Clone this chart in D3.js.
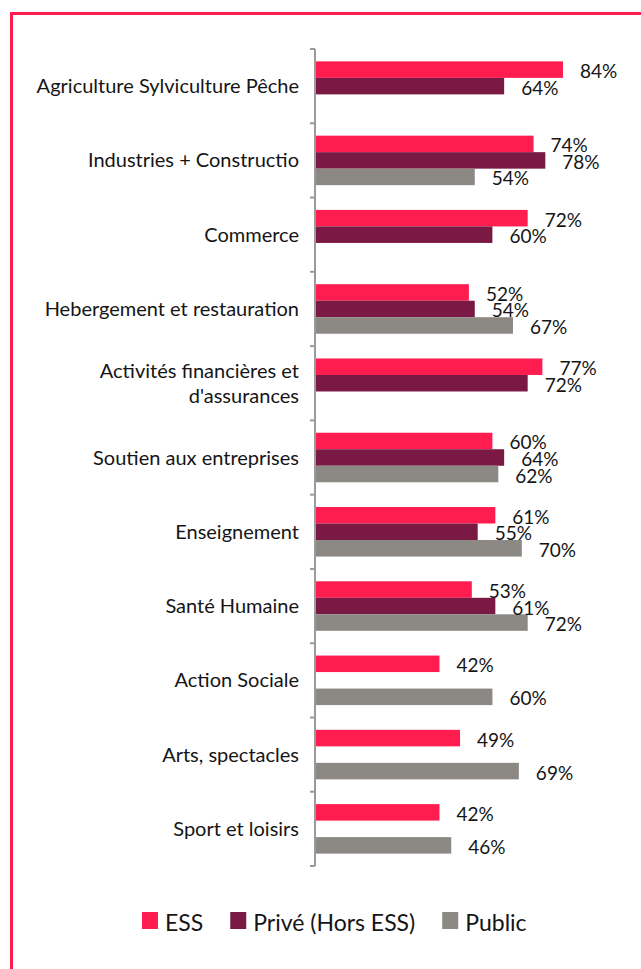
<!DOCTYPE html>
<html>
<head>
<meta charset="utf-8">
<script src="https://cdn.jsdelivr.net/npm/d3@7"></script>
<style>
  html, body { margin: 0; padding: 0; background: #fff; }
  svg { display: block; }
  text { font-family: Lato, "Open Sans", sans-serif; fill: #151515; }
</style>
</head>
<body>
<svg id="chart" width="641" height="969"></svg>
<script>
// Sector labels (the trailing "Constructio" is how the source label reads)
const categories = [
  ["Agriculture Sylviculture Pêche"],
  ["Industries  + Constructio"],
  ["Commerce"],
  ["Hebergement et restauration"],
  ["Activités financières et", "d'assurances"],
  ["Soutien aux entreprises"],
  ["Enseignement"],
  ["Santé Humaine"],
  ["Action Sociale"],
  ["Arts, spectacles"],
  ["Sport et loisirs"]
];

// Shares in % per sector; null where no value is given
const essValues    = [84, 74, 72, 52, 77, 60, 61, 53, 42, 49, 42];
const priveValues  = [64, 78, 60, 54, 72, 64, 55, 61, null, null, null];
const publicValues = [null, 54, null, 67, null, 62, 70, 72, 60, 69, 46];

const seriesNames  = ["ESS", "Privé (Hors ESS)", "Public"];
const seriesColors = ["#FF1D50", "#7B1945", "#8C8883"];

const svg = d3.select("#chart");

// Pink frame around the chart area
svg.append("rect")
  .attr("x", 11.5).attr("y", 13.5)
  .attr("width", 700).attr("height", 1000)
  .attr("fill", "none")
  .attr("stroke", "#FF1D50")
  .attr("stroke-width", 3);

const plotLeft = 316, plotTop = 49, plotBottom = 866;

const x = d3.scaleLinear().domain([0, 100]).range([plotLeft, plotLeft + 294]);

const y = d3.scaleBand()
  .domain(d3.range(categories.length))
  .range([plotTop, plotBottom])
  .paddingInner(0).paddingOuter(0);

// Three slots per sector; a missing series leaves its slot empty
const slot = d3.scaleBand()
  .domain(d3.range(seriesNames.length))
  .range([0, y.bandwidth()])
  .paddingInner(0)
  .paddingOuter(0.75);

const series = [essValues, priveValues, publicValues];

const rows = [];
series.forEach((vals, s) => {
  vals.forEach((v, i) => {
    if (v != null) rows.push({ i, s, v });
  });
});

const bars = svg.append("g");
bars.selectAll("rect")
  .data(rows)
  .join("rect")
  .attr("x", x(0))
  .attr("y", d => y(d.i) + slot(d.s))
  .attr("width", d => x(d.v) - x(0))
  .attr("height", slot.bandwidth())
  .attr("fill", d => seriesColors[d.s]);

// Value labels just past each bar end
svg.append("g").selectAll("text")
  .data(rows)
  .join("text")
  .attr("x", d => x(d.v) + 17)
  .attr("y", d => y(d.i) + slot(d.s) + slot.bandwidth() / 2 + 8.5)
  .attr("font-size", 19)
  .text(d => d.v + "%");

// Category axis: vertical line with outer ticks at band edges
const axisG = svg.append("g");
axisG.append("line")
  .attr("x1", plotLeft - 1).attr("x2", plotLeft - 1)
  .attr("y1", plotTop).attr("y2", plotBottom)
  .attr("stroke", "#9A9A9A").attr("stroke-width", 2);
axisG.selectAll("line.tick")
  .data(d3.range(categories.length + 1))
  .join("line")
  .attr("class", "tick")
  .attr("x1", plotLeft - 6).attr("x2", plotLeft - 1)
  .attr("y1", k => plotTop + k * y.step())
  .attr("y2", k => plotTop + k * y.step())
  .attr("stroke", "#9A9A9A").attr("stroke-width", 2);

// Category labels, right-aligned against the axis
const lineGap = 25;
const catLabels = axisG.selectAll("text.cat")
  .data(categories)
  .join("text")
  .attr("class", "cat")
  .attr("text-anchor", "end")
  .attr("font-size", 20);
catLabels.each(function(lines, i) {
  const cy = y(i) + y.bandwidth() / 2;
  const first = cy - (lines.length - 1) * lineGap / 2;
  d3.select(this).selectAll("tspan")
    .data(lines)
    .join("tspan")
    .attr("x", plotLeft - 17)
    .attr("y", (t, k) => first + k * lineGap + 7)
    .text(t => t);
});

// Legend, laid out left to right
const legend = svg.append("g");
let lx = 142;
seriesNames.forEach((name, s) => {
  legend.append("rect")
    .attr("x", lx).attr("y", 912)
    .attr("width", 16).attr("height", 17)
    .attr("fill", seriesColors[s]);
  const t = legend.append("text")
    .attr("x", lx + 23).attr("y", 931)
    .attr("font-size", 23)
    .text(name);
  lx += 23 + t.node().getComputedTextLength() + 27;
});
</script>
</body>
</html>
